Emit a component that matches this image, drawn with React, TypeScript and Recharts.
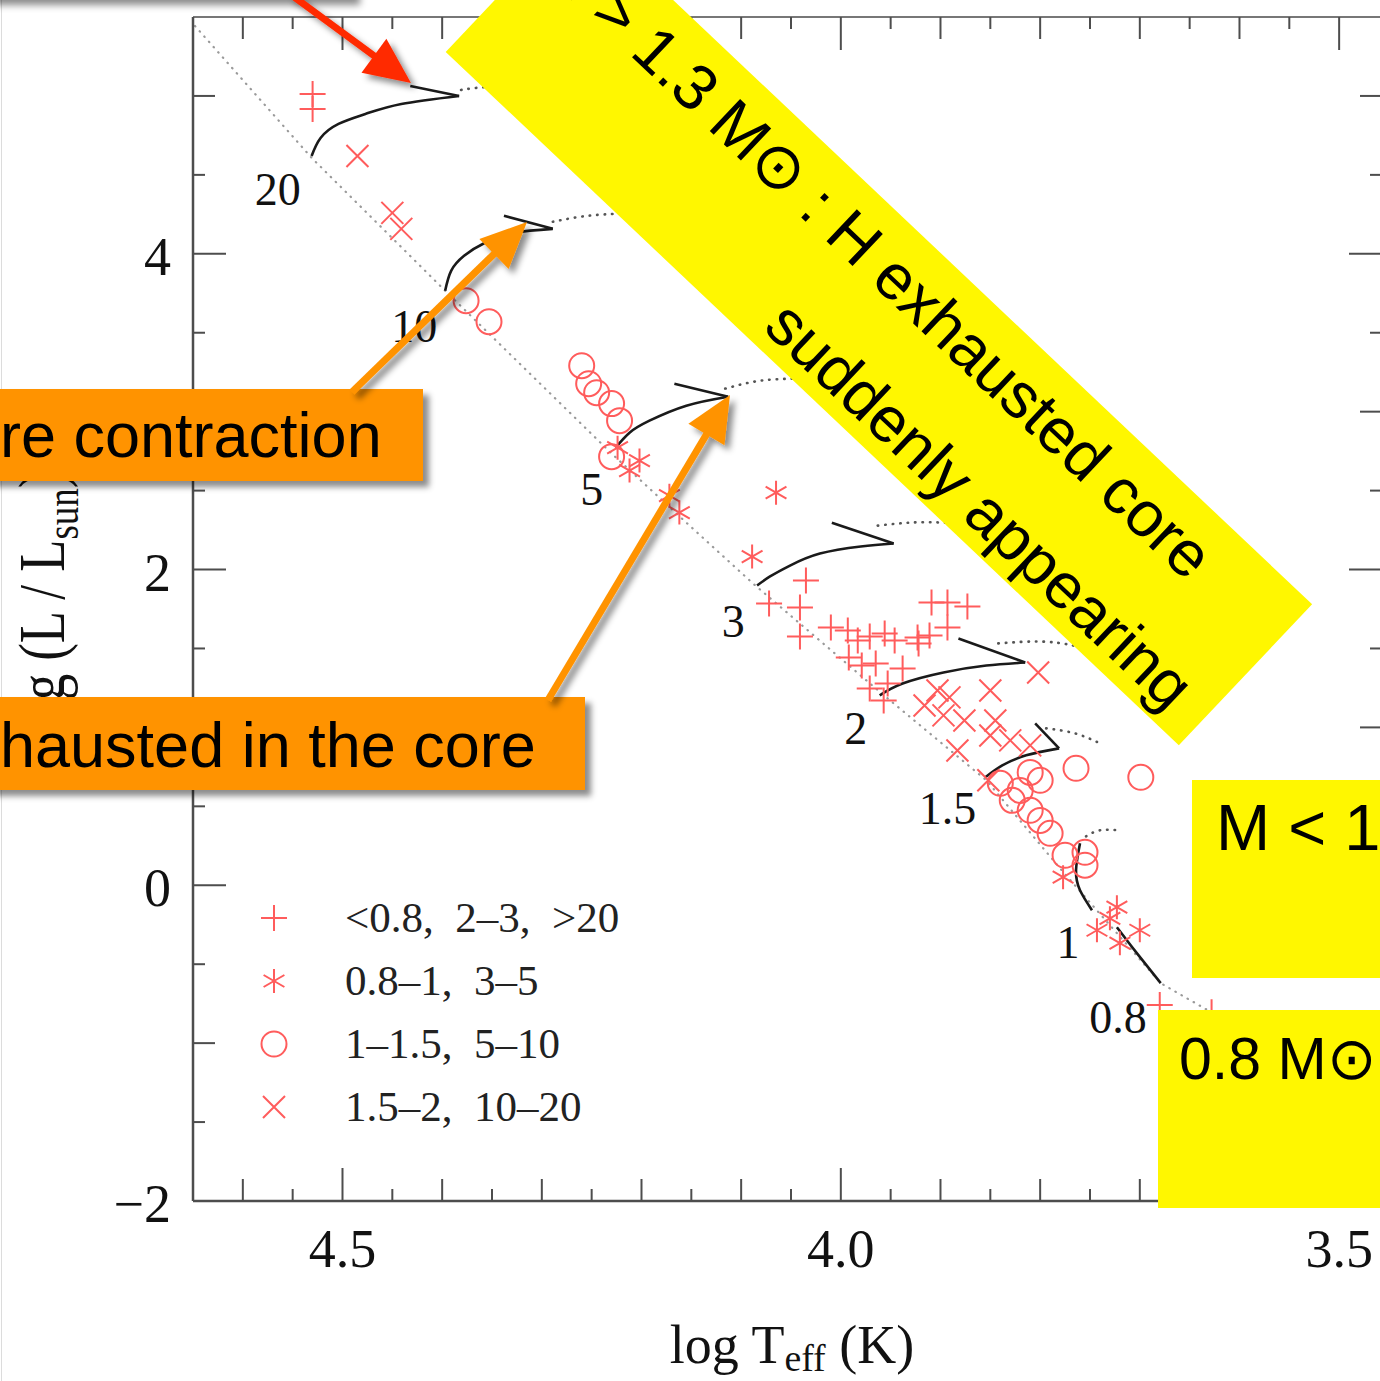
import React from 'react';
import { ComposedChart, Line, Scatter, XAxis, YAxis, Legend } from 'recharts';

// axis ticks
const xTicks = [3.5, 3.55, 3.6, 3.65, 3.7, 3.75, 3.8, 3.85, 3.9, 3.95, 4.0, 4.05, 4.1, 4.15, 4.2, 4.25, 4.3, 4.35, 4.4, 4.45, 4.5, 4.55, 4.6];
const yTicks = [-2, -1.5, -1, -0.5, 0, 0.5, 1, 1.5, 2, 2.5, 3, 3.5, 4, 4.5, 5];

// zero-age main sequence [log Teff, log L]
const zams = [[4.648, 5.443], [4.531, 4.608], [4.397, 3.766], [4.231, 2.741], [4.155, 2.297], [4.088, 1.911], [3.959, 1.215], [3.854, 0.665], [3.781, 0.114], [3.679, -0.62], [3.632, -0.791], [3.615, -0.85]];

// main-sequence tracks (20, 10, 5, 3, 2, 1.5, 1, 0.8 Msun)
const riseTracks = [
  [[4.531, 4.62], [4.522, 4.734], [4.504, 4.823], [4.477, 4.886], [4.441, 4.949], [4.383, 5.0]],
  [[4.397, 3.766], [4.391, 3.892], [4.378, 3.987], [4.357, 4.07], [4.327, 4.133], [4.289, 4.158]],
  [[4.226, 2.772], [4.212, 2.867], [4.192, 2.943], [4.155, 3.038], [4.113, 3.095]],
  [[4.084, 1.899], [4.071, 1.956], [4.051, 2.025], [4.021, 2.101], [3.98, 2.146], [3.947, 2.165]],
  [[3.961, 1.203], [3.938, 1.278], [3.897, 1.348], [3.854, 1.392], [3.815, 1.411]],
  [[3.855, 0.684], [3.838, 0.759], [3.814, 0.823], [3.781, 0.867]],
  [[3.748, -0.158], [3.76, -0.032], [3.764, 0.095], [3.76, 0.266]],
  [[3.679, -0.62], [3.703, -0.43], [3.723, -0.266]],
];
// hooks (core contraction)
const hookTracks = [
  [[4.383, 5.0], [4.432, 5.063]],
  [[4.289, 4.158], [4.338, 4.241]],
  [[4.113, 3.095], [4.167, 3.177]],
  [[3.947, 2.165], [4.009, 2.297]],
  [[3.815, 1.411], [3.882, 1.563]],
  [[3.781, 0.867], [3.805, 1.025]],
];
// post main sequence (dotted)
const postTracks = [
  [[4.381, 5.038], [4.352, 5.057], [4.302, 5.057], [4.242, 5.044]],
  [[4.289, 4.203], [4.262, 4.234], [4.226, 4.253], [4.162, 4.259]],
  [[4.116, 3.146], [4.081, 3.196], [4.041, 3.209], [3.991, 3.209]],
  [[3.963, 2.278], [3.931, 2.297], [3.897, 2.297], [3.85, 2.278]],
  [[3.842, 1.532], [3.8, 1.544], [3.767, 1.519], [3.74, 1.475]],
  [[3.794, 0.994], [3.765, 0.962], [3.74, 0.899]],
  [[3.754, 0.31], [3.74, 0.348], [3.72, 0.348]],
];

const massLabels = ['20', '10', '5', '3', '2', '1.5', '1', '0.8'];
const massLabelPos = [[4.565, 4.411], [4.428, 3.544], [4.25, 2.513], [4.108, 1.677], [3.985, 0.994], [3.893, 0.487], [3.772, -0.361], [3.722, -0.835]];

// observed stars
const plusPts = [[4.53, 5.013], [4.53, 4.918], [4.072, 1.785], [4.035, 1.93], [4.041, 1.759], [4.041, 1.576], [4.01, 1.633], [3.993, 1.614], [3.983, 1.551], [3.971, 1.576], [3.956, 1.595], [3.946, 1.551], [3.923, 1.57], [3.911, 1.582], [3.893, 1.633], [3.909, 1.791], [3.893, 1.791], [3.873, 1.766], [3.979, 1.392], [3.965, 1.405], [3.938, 1.373], [3.953, 1.278], [3.957, 1.171], [3.922, 1.532], [3.992, 1.443], [3.971, 1.247], [3.68, -0.759], [3.628, -0.804]];
const starPts = [[4.224, 2.772], [4.202, 2.69], [4.212, 2.627], [4.172, 2.468], [4.162, 2.361], [4.065, 2.487], [4.089, 2.082], [3.777, 0.051], [3.723, -0.139], [3.743, -0.285], [3.7, -0.285], [3.72, -0.367], [3.73, -0.209]];
const circlePts = [[4.376, 3.703], [4.353, 3.57], [4.26, 3.291], [4.253, 3.177], [4.245, 3.12], [4.23, 3.051], [4.222, 2.943], [4.23, 2.715], [3.764, 0.741], [3.699, 0.684], [3.8, 0.665], [3.81, 0.715], [3.82, 0.601], [3.828, 0.538], [3.81, 0.475], [3.8, 0.411], [3.79, 0.329], [3.775, 0.19], [3.755, 0.209], [3.755, 0.127], [3.84, 0.646]];
const crossPts = [[4.485, 4.62], [4.45, 4.259], [4.441, 4.158], [3.85, 1.234], [3.802, 1.348], [3.903, 1.234], [3.891, 1.19], [3.916, 1.139], [3.897, 1.076], [3.876, 1.044], [3.845, 1.044], [3.85, 0.949], [3.83, 0.918], [3.81, 0.886], [3.883, 0.854], [3.852, 0.665]];

const legendLabels = ['<0.8,  2–3,  >20', '0.8–1,  3–5', '1–1.5,  5–10', '1.5–2,  10–20'];

const SERIF = '"Liberation Serif", "Times New Roman", serif';
const SANS = '"Liberation Sans", Arial, sans-serif';
const AXIS = '#4d4d4d';
const RED = '#ff5c5c';
const ORANGE = '#ff9300';
const YELLOW = '#fff700';

const pts = (a: number[][]) => a.map(([T, L]) => ({ T, L }));
const near = (v: number, step: number) => Math.abs(v / step - Math.round(v / step)) < 1e-6;

const xLen = (v: number) => (near(v, 0.5) ? 33 : near(v, 0.1) ? 22 : 12);
const yLen = (v: number) => (near(v, 2) ? 33 : near(v, 1) ? 22 : 12);

const bottomTick = (p: any) => {
  const v = p.payload.value;
  return (
    <g>
      <line x1={p.x} x2={p.x} y1={p.y} y2={p.y - xLen(v)} stroke={AXIS} strokeWidth={2} />
      {near(v, 0.5) && (
        <text x={p.x} y={p.y + 66} textAnchor="middle" fontSize={54} fontFamily={SERIF} fill="#111">{v.toFixed(1)}</text>
      )}
    </g>
  );
};
const topTick = (p: any) => (
  <line x1={p.x} x2={p.x} y1={p.y} y2={p.y + xLen(p.payload.value)} stroke={AXIS} strokeWidth={2} />
);
const leftTick = (p: any) => {
  const v = p.payload.value;
  return (
    <g>
      <line x1={p.x} x2={p.x + yLen(v)} y1={p.y} y2={p.y} stroke={AXIS} strokeWidth={2} />
      {near(v, 2) && (
        <text x={p.x - 22} y={p.y + 21} textAnchor="end" fontSize={54} fontFamily={SERIF} fill="#111">{v < 0 ? `−${-v}` : `${v}`}</text>
      )}
    </g>
  );
};
const rightTick = (p: any) => (
  <line x1={p.x} x2={p.x - yLen(p.payload.value)} y1={p.y} y2={p.y} stroke={AXIS} strokeWidth={2} />
);

const plusShape = (p: any) => (
  <path d={`M${p.cx - 13} ${p.cy}H${p.cx + 13}M${p.cx} ${p.cy - 13}V${p.cy + 13}`} stroke={RED} strokeWidth={2} fill="none" />
);
const crossShape = (p: any) => (
  <path d={`M${p.cx - 11} ${p.cy - 11}L${p.cx + 11} ${p.cy + 11}M${p.cx - 11} ${p.cy + 11}L${p.cx + 11} ${p.cy - 11}`} stroke={RED} strokeWidth={2} fill="none" />
);
const circleShape = (p: any) => <circle cx={p.cx} cy={p.cy} r={12.5} stroke={RED} strokeWidth={2} fill="none" />;
const starShape = (p: any) => (
  <path
    d={`M${p.cx} ${p.cy - 12}V${p.cy + 12}M${p.cx - 10.4} ${p.cy - 6}L${p.cx + 10.4} ${p.cy + 6}M${p.cx - 10.4} ${p.cy + 6}L${p.cx + 10.4} ${p.cy - 6}`}
    stroke={RED}
    strokeWidth={2}
    fill="none"
  />
);
const labelShape = (p: any) => (
  <text x={p.cx} y={p.cy + 16} textAnchor="middle" fontSize={46} fontFamily={SERIF} fill="#111">{p.payload.label}</text>
);

const legendShapes = [plusShape, starShape, circleShape, crossShape];
const renderLegend = () => (
  <div style={{ fontFamily: SERIF }}>
    {legendLabels.map((t, i) => (
      <div key={t} style={{ display: 'flex', alignItems: 'center', height: 63 }}>
        <svg width={48} height={40}>{legendShapes[i]({ cx: 24, cy: 20 })}</svg>
        <span style={{ marginLeft: 47, fontSize: 43, whiteSpace: 'pre', color: '#222' }}>{t}</span>
      </div>
    ))}
  </div>
);

const axisCommon = { type: 'number' as const, allowDataOverflow: true, interval: 0 as const, tickSize: 0, tickMargin: 0, tickLine: false };

const arrowHead = (tx: number, ty: number, fx: number, fy: number, len: number, half: number) => {
  const d = Math.hypot(tx - fx, ty - fy);
  const ux = (tx - fx) / d;
  const uy = (ty - fy) / d;
  const bx = tx - ux * len;
  const by = ty - uy * len;
  return `${tx},${ty} ${bx - uy * half},${by + ux * half} ${bx + uy * half},${by - ux * half}`;
};

function Arrow({ fx, fy, tx, ty, color }: { fx: number; fy: number; tx: number; ty: number; color: string }) {
  const d = Math.hypot(tx - fx, ty - fy);
  const ex = tx - ((tx - fx) / d) * 40;
  const ey = ty - ((ty - fy) / d) * 40;
  return (
    <g filter="url(#shadow)">
      <line x1={fx} y1={fy} x2={ex} y2={ey} stroke={color} strokeWidth={7} />
      <polygon points={arrowHead(tx, ty, fx, fy, 46, 21)} fill={color} />
    </g>
  );
}

export default function App() {
  return (
    <div style={{ position: 'fixed', left: 0, top: 0, width: 1380, height: 1381, overflow: 'hidden', background: '#fff' }}>
      <div style={{ position: 'absolute', left: 1, top: 0, width: 1, height: 1381, background: '#dcdcdc' }} />
      <div style={{ position: 'absolute', left: -10, top: -30, width: 370, height: 30, background: '#fff', boxShadow: '0 5px 7px rgba(0,0,0,0.45)' }} />

      <div style={{ position: 'absolute', left: 0, top: 0 }}>
        <ComposedChart width={1420} height={1381} margin={{ top: 16, right: 37, bottom: 179, left: 192 }}>
          <XAxis xAxisId="b" dataKey="T" domain={[3.457, 4.65]} reversed ticks={xTicks} height={1} {...axisCommon} axisLine={{ stroke: AXIS, strokeWidth: 2.5 }} tick={bottomTick} />
          <XAxis xAxisId="t" orientation="top" dataKey="T" domain={[3.457, 4.65]} reversed ticks={xTicks} height={1} {...axisCommon} axisLine={{ stroke: '#777', strokeWidth: 2 }} tick={topTick} />
          <YAxis yAxisId="l" dataKey="L" domain={[-2, 5.5]} ticks={yTicks} width={1} {...axisCommon} axisLine={{ stroke: AXIS, strokeWidth: 2.5 }} tick={leftTick} />
          <YAxis yAxisId="r" orientation="right" dataKey="L" domain={[-2, 5.5]} ticks={yTicks} width={1} {...axisCommon} axisLine={{ stroke: AXIS, strokeWidth: 2 }} tick={rightTick} />

          <Line xAxisId="b" yAxisId="l" data={pts(zams)} dataKey="L" type="linear" stroke="#9a9a9a" strokeWidth={2.2} strokeDasharray="0.5 6.5" strokeLinecap="round" dot={false} isAnimationActive={false} legendType="none" />
          {postTracks.map((t, i) => (
            <Line key={`post${i}`} xAxisId="b" yAxisId="l" data={pts(t)} dataKey="L" type="natural" stroke="#555" strokeWidth={2.6} strokeDasharray="0.5 7" strokeLinecap="round" dot={false} isAnimationActive={false} legendType="none" />
          ))}
          {riseTracks.map((t, i) => (
            <Line key={`rise${i}`} xAxisId="b" yAxisId="l" data={pts(t)} dataKey="L" type="natural" stroke="#1a1a1a" strokeWidth={2.6} dot={false} isAnimationActive={false} legendType="none" />
          ))}
          {hookTracks.map((t, i) => (
            <Line key={`hook${i}`} xAxisId="b" yAxisId="l" data={pts(t)} dataKey="L" type="linear" stroke="#1a1a1a" strokeWidth={2.6} dot={false} isAnimationActive={false} legendType="none" />
          ))}

          <Scatter xAxisId="b" yAxisId="l" data={pts(plusPts)} shape={plusShape} isAnimationActive={false} />
          <Scatter xAxisId="b" yAxisId="l" data={pts(starPts)} shape={starShape} isAnimationActive={false} />
          <Scatter xAxisId="b" yAxisId="l" data={pts(circlePts)} shape={circleShape} isAnimationActive={false} />
          <Scatter xAxisId="b" yAxisId="l" data={pts(crossPts)} shape={crossShape} isAnimationActive={false} />
          <Scatter
            xAxisId="b"
            yAxisId="l"
            data={massLabelPos.map(([T, L], i) => ({ T, L, label: massLabels[i] }))}
            shape={labelShape}
            isAnimationActive={false}
          />

          <Legend layout="vertical" align="center" verticalAlign="middle" content={renderLegend} wrapperStyle={{ left: 250, top: 886, width: 420, height: 260 }} />
        </ComposedChart>
      </div>

      {/* axis titles */}
      <div style={{ position: 'absolute', left: 592, top: 1318, width: 400, textAlign: 'center', fontFamily: SERIF, fontSize: 54, lineHeight: '54px', color: '#111', whiteSpace: 'nowrap' }}>
        log T<span style={{ fontSize: '0.7em', position: 'relative', top: '0.22em' }}>eff</span> (K)
      </div>
      <div style={{ position: 'absolute', left: -158, top: 573, width: 400, height: 66, textAlign: 'center', fontFamily: SERIF, fontSize: 66, lineHeight: '66px', color: '#111', whiteSpace: 'nowrap', transform: 'rotate(-90deg) scale(0.8, 1)' }}>
        log (L / L<span style={{ fontSize: '0.7em', position: 'relative', top: '0.3em' }}>sun</span>)
      </div>

      {/* orange callouts */}
      <div style={{ position: 'absolute', left: -20, top: 389, width: 443, height: 92, background: ORANGE, boxShadow: '6px 6px 6px rgba(0,0,0,0.45)' }}>
        <div style={{ position: 'absolute', left: 20, top: 15, fontFamily: SANS, fontSize: 63, lineHeight: '63px', color: '#000', whiteSpace: 'nowrap' }}>re contraction</div>
      </div>
      <div style={{ position: 'absolute', left: -20, top: 697, width: 605, height: 93, background: ORANGE, boxShadow: '6px 6px 6px rgba(0,0,0,0.45)' }}>
        <div style={{ position: 'absolute', left: 20, top: 17, fontFamily: SANS, fontSize: 63, lineHeight: '63px', color: '#000', whiteSpace: 'nowrap' }}>hausted in the core</div>
      </div>

      <svg width={1380} height={1381} style={{ position: 'absolute', left: 0, top: 0, pointerEvents: 'none' }}>
        <defs>
          <filter id="shadow" x="-20%" y="-20%" width="140%" height="140%">
            <feDropShadow dx="5" dy="5" stdDeviation="3" floodColor="#000" floodOpacity="0.45" />
          </filter>
        </defs>
        <Arrow fx={290} fy={-6} tx={411} ty={83} color="#ff2a00" />
        <Arrow fx={352} fy={392} tx={527} ty={222} color={ORANGE} />
        <Arrow fx={548} fy={700} tx={730} ty={395} color={ORANGE} />
      </svg>

      {/* yellow callouts */}
      <div style={{ position: 'absolute', left: 579, top: -89, width: 1009, height: 194, background: YELLOW, transform: 'rotate(43.4deg)', transformOrigin: '0 0', fontFamily: SANS, fontSize: 64, lineHeight: '64px', color: '#000', whiteSpace: 'nowrap' }}>
        <div style={{ position: 'absolute', left: 8, top: 16 }}>M &gt; 1.3 M⊙ : H exhausted core</div>
        <div style={{ position: 'absolute', left: 420, top: 124 }}>suddenly appearing</div>
      </div>
      <div style={{ position: 'absolute', left: 1192, top: 780, width: 220, height: 198, background: YELLOW }}>
        <div style={{ position: 'absolute', left: 24, top: 15, fontFamily: SANS, fontSize: 65, lineHeight: '65px', color: '#000', whiteSpace: 'nowrap' }}>M &lt; 1</div>
      </div>
      <div style={{ position: 'absolute', left: 1158, top: 1010, width: 250, height: 198, background: YELLOW }}>
        <div style={{ position: 'absolute', left: 21, top: 20, fontFamily: SANS, fontSize: 59, lineHeight: '59px', color: '#000', whiteSpace: 'nowrap' }}>0.8 M⊙</div>
      </div>
    </div>
  );
}
